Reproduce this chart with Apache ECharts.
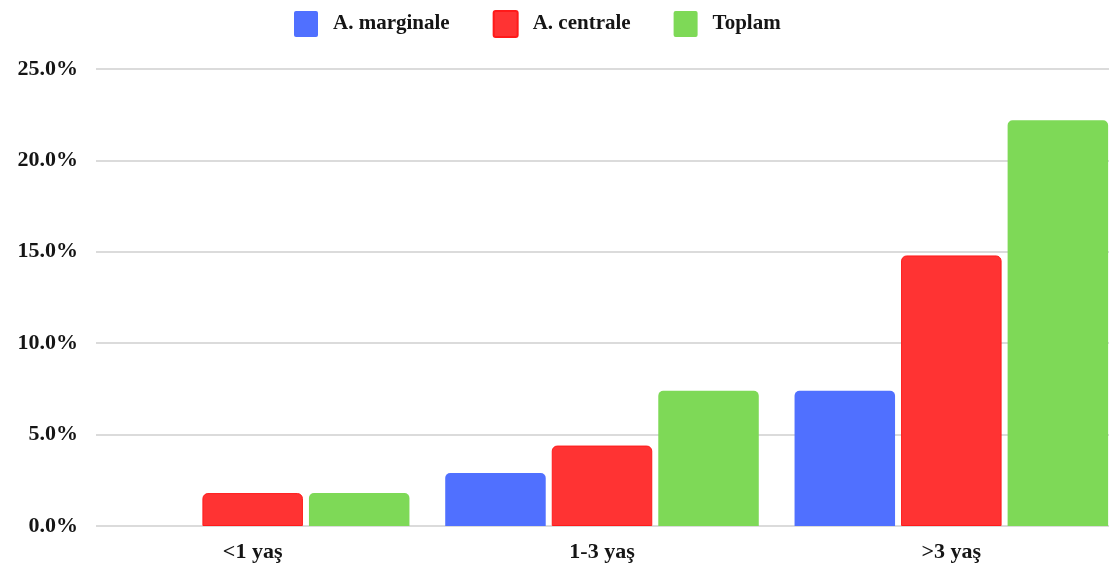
<!DOCTYPE html>
<html>
<head>
<meta charset="utf-8">
<title>Yaş gruplarına göre oranlar</title>
<script src="https://cdn.jsdelivr.net/npm/echarts@6/dist/echarts.min.js"></script>
<style>
  html, body { margin: 0; padding: 0; background: #ffffff; }
  #chart { width: 1109px; height: 567px; }
</style>
</head>
<body>
<div id="chart"></div>
<script>
// Age groups and percentage per group
const categories = ['<1 yaş', '1-3 yaş', '>3 yaş'];
const seriesNames = ['A. marginale', 'A. centrale', 'Toplam'];
const marginale = [0, 2.9, 7.4];
const centrale = [1.8, 4.4, 14.8];
const toplam = [1.8, 7.4, 22.2];
const yTicks = { min: 0, max: 25, interval: 5 };

const FONT = '"Liberation Serif", "DejaVu Serif", serif';
const INK = '#151515';
const colors = ['#5070FF', '#FF3333', '#7ED957'];
const borders = ['#5070FF', '#FF1A1A', '#7ED957'];

// square legend marker with slightly softened corners
const LEGEND_ICON = 'path://M2,0H22Q24,0 24,2V24Q24,26 22,26H2Q0,26 0,24V2Q0,0 2,0Z';

const chart = echarts.init(document.getElementById('chart'), null, { renderer: 'canvas' });

const values = [marginale, centrale, toplam];

chart.setOption({
  backgroundColor: '#ffffff',
  animation: false,
  legend: {
    top: 10,
    left: 294,
    padding: 0,
    itemWidth: 24,
    itemHeight: 26,
    itemGap: 43,
    icon: LEGEND_ICON,
    textStyle: {
      fontFamily: FONT,
      fontWeight: 'bold',
      fontSize: 21,
      color: INK,
      padding: [2, 0, 0, 10]
    },
    data: seriesNames
  },
  grid: [
    // grid carrying the percentage axis and its guide lines
    { left: 96, right: 0, top: 69, bottom: 41, outerBoundsMode: 'none' },
    // grid carrying the grouped bars (band extends past the right edge)
    { left: 78, width: 1048, top: 69, bottom: 41, outerBoundsMode: 'none' }
  ],
  xAxis: [
    { gridIndex: 0, type: 'category', data: categories, show: false },
    {
      gridIndex: 1,
      type: 'category',
      data: categories,
      axisLine: { show: false },
      axisTick: { show: false },
      axisLabel: {
        margin: 15,
        fontFamily: FONT,
        fontWeight: 'bold',
        fontSize: 22,
        color: INK
      }
    }
  ],
  yAxis: [
    {
      gridIndex: 0,
      type: 'value',
      min: yTicks.min,
      max: yTicks.max,
      interval: yTicks.interval,
      axisLine: { show: false },
      axisTick: { show: false },
      splitLine: { lineStyle: { color: '#cfcfcf', width: 1.5 } },
      axisLabel: {
        margin: 18,
        fontFamily: FONT,
        fontWeight: 'bold',
        fontSize: 22,
        color: INK,
        formatter: v => v.toFixed(1) + '%'
      }
    },
    {
      gridIndex: 1,
      type: 'value',
      min: yTicks.min,
      max: yTicks.max,
      interval: yTicks.interval,
      show: false
    }
  ],
  series: seriesNames.map((name, i) => ({
    name: name,
    type: 'bar',
    xAxisIndex: 1,
    yAxisIndex: 1,
    barWidth: 100.5,
    barGap: '6%',
    data: values[i],
    itemStyle: {
      color: colors[i],
      borderColor: borders[i],
      borderWidth: i === 1 ? 1 : 0,
      borderRadius: [5, 5, 0, 0]
    }
  }))
});
</script>
</body>
</html>
